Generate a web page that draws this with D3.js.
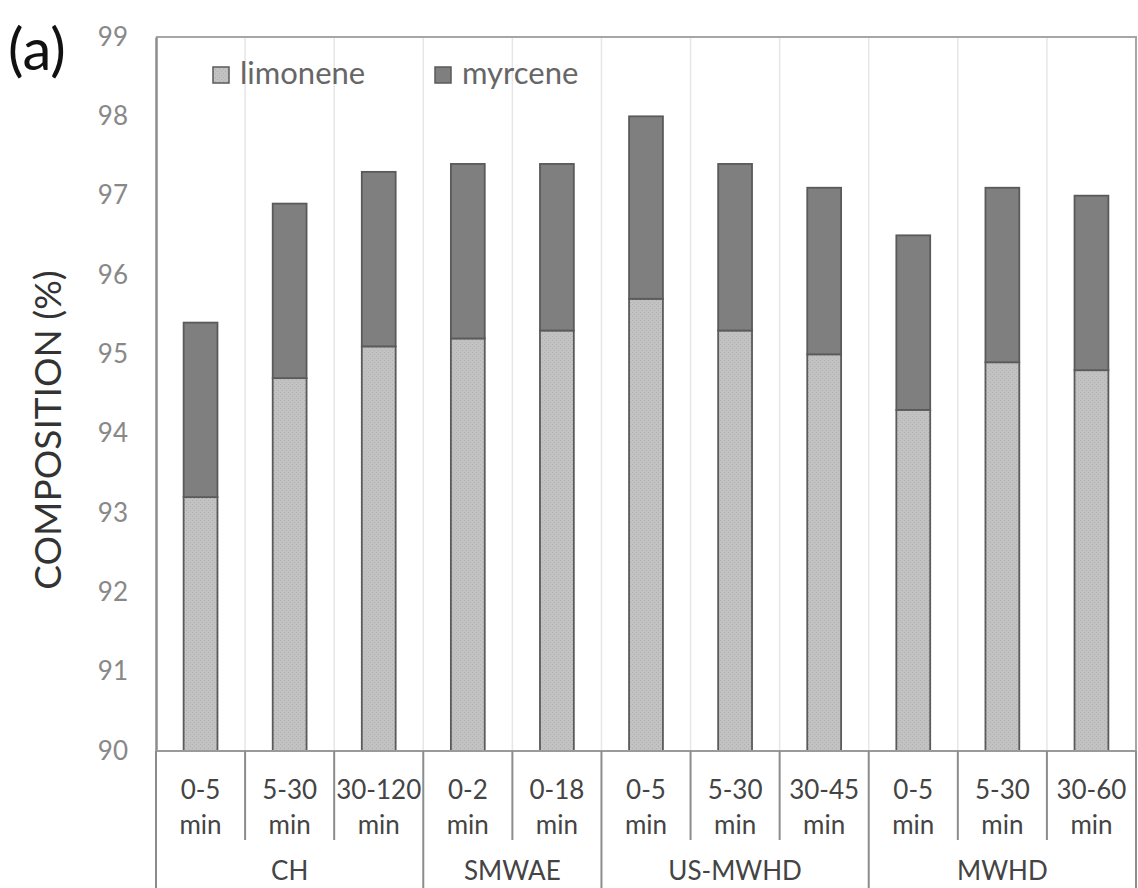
<!DOCTYPE html>
<html>
<head>
<meta charset="utf-8">
<script src="https://cdn.jsdelivr.net/npm/d3@7"></script>
<style>
  body { margin: 0; background: #fff; }
  svg { display: block; font-family: Lato, "Open Sans", sans-serif; }
</style>
</head>
<body>
<div id="container"></div>
<script>
// values
const timeRanges = ["0-5", "5-30", "30-120", "0-2", "0-18", "0-5", "5-30", "30-45", "0-5", "5-30", "30-60"]
const groupNames = ["CH", "SMWAE", "US-MWHD", "MWHD"]
const groupSizes = [3, 2, 3, 3]
const limonene = [93.2, 94.7, 95.1, 95.2, 95.3, 95.7, 95.3, 95.0, 94.3, 94.9, 94.8]
const myrcene = [2.2, 2.2, 2.2, 2.2, 2.1, 2.3, 2.1, 2.1, 2.2, 2.2, 2.2]
const yTicks = [90, 91, 92, 93, 94, 95, 96, 97, 98, 99]
const seriesNames = ["limonene", "myrcene"]

const width = 1138
const height = 888
const margin = { left: 156, top: 37, right: 2, bottom: 137 }

const colors = { limonene: "url(#dots)", myrcene: "#7f7f7f" }

const svg = d3.select("#container").append("svg")
    .attr("width", width).attr("height", height)

// light dotted fill like the original limonene bars
const pat = svg.append("defs").append("pattern")
    .attr("id", "dots").attr("width", 4).attr("height", 4)
    .attr("patternUnits", "userSpaceOnUse")
pat.append("rect").attr("width", 4).attr("height", 4).attr("fill", "#c2c2c2")
pat.append("rect").attr("width", 1).attr("height", 1).attr("fill", "#b0b0b0")
pat.append("rect").attr("x", 2).attr("y", 2).attr("width", 1).attr("height", 1).attr("fill", "#b0b0b0")

const keys = timeRanges.map((d, i) => i)
const x = d3.scaleBand().domain(keys)
    .range([margin.left, width - margin.right]).padding(0)
const y = d3.scaleLinear().domain([90, 99])
    .range([height - margin.bottom, margin.top]).clamp(true)

const rows = keys.map(i => ({ limonene: limonene[i], myrcene: myrcene[i] }))
const stacked = d3.stack().keys(seriesNames)(rows)

// vertical light grid at category boundaries
svg.append("g").selectAll("line")
    .data(keys.slice(1))
    .join("line")
    .attr("x1", d => x(d)).attr("x2", d => x(d))
    .attr("y1", margin.top).attr("y2", y(90))
    .attr("stroke", "#e6e6e6").attr("stroke-width", 1.5)

// plot border (top + right)
svg.append("path")
    .attr("d", `M${margin.left},${margin.top}H${width - margin.right}V${y(90)}`)
    .attr("fill", "none").attr("stroke", "#a6a6a6").attr("stroke-width", 2)

const barW = x.bandwidth() * 0.38
svg.append("g").selectAll("g")
    .data(stacked)
    .join("g")
    .attr("fill", d => colors[d.key])
    .selectAll("rect")
    .data(d => d)
    .join("rect")
    .attr("x", (d, i) => x(i) + (x.bandwidth() - barW) / 2)
    .attr("width", barW)
    .attr("y", d => y(d[1]))
    .attr("height", d => y(d[0]) - y(d[1]))
    .attr("stroke", "#5a5a5a").attr("stroke-width", 1.8)

// y axis
const yAxis = svg.append("g")
    .attr("transform", `translate(${margin.left},0)`)
    .call(d3.axisLeft(y).tickValues(yTicks).tickSize(0).tickPadding(28))
yAxis.select(".domain").attr("stroke", "#8c8c8c").attr("stroke-width", 2.5)
yAxis.selectAll("text").attr("fill", "#888").style("font-size", "26px")
    .attr("font-family", "Lato, sans-serif")

// x axis baseline and category labels
const xBase = y(90)
svg.append("line")
    .attr("x1", margin.left).attr("x2", width - margin.right)
    .attr("y1", xBase).attr("y2", xBase)
    .attr("stroke", "#9a9a9a").attr("stroke-width", 2)

const catLab = svg.append("g").selectAll("text")
    .data(keys)
    .join("text")
    .attr("x", d => x(d) + x.bandwidth() / 2)
    .attr("text-anchor", "middle")
    .attr("fill", "#444")
    .style("font-size", "26px")
catLab.append("tspan").attr("x", d => x(d) + x.bandwidth() / 2).attr("y", 799).text(d => timeRanges[d])
catLab.append("tspan").attr("x", d => x(d) + x.bandwidth() / 2).attr("y", 834).text("min")

// separators under the axis
const groupStarts = groupSizes.map((n, i) => d3.sum(groupSizes.slice(0, i)))
const inner = keys.slice(1).filter(k => !groupStarts.includes(k))
svg.append("g").selectAll("line")
    .data(inner)
    .join("line")
    .attr("x1", d => x(d)).attr("x2", d => x(d))
    .attr("y1", xBase).attr("y2", 840)
    .attr("stroke", "#8c8c8c").attr("stroke-width", 2)
svg.append("g").selectAll("line")
    .data(groupStarts.concat([timeRanges.length]))
    .join("line")
    .attr("x1", d => d < timeRanges.length ? x(d) : width - margin.right)
    .attr("x2", d => d < timeRanges.length ? x(d) : width - margin.right)
    .attr("y1", xBase).attr("y2", height)
    .attr("stroke", "#8c8c8c").attr("stroke-width", 2)

// group labels
svg.append("g").selectAll("text")
    .data(groupNames)
    .join("text")
    .attr("x", (d, i) => {
        const a = x(groupStarts[i])
        const b = x(groupStarts[i] + groupSizes[i] - 1) + x.bandwidth()
        return (a + b) / 2
    })
    .attr("y", 880)
    .attr("text-anchor", "middle")
    .attr("fill", "#444")
    .style("font-size", "26px")
    .text(d => d)

// legend
const legend = svg.append("g")
    .selectAll("g")
    .data(seriesNames)
    .join("g")
    .attr("transform", (d, i) => `translate(${[213, 435][i]},67)`)
legend.append("rect")
    .attr("width", 16).attr("height", 16)
    .attr("fill", d => colors[d]).attr("stroke", "#5a5a5a").attr("stroke-width", 1.5)
legend.append("text")
    .attr("x", 27).attr("y", 17)
    .attr("fill", "#666")
    .style("font-size", "31px")
    .text(d => d)

// y title
svg.append("text")
    .attr("transform", "translate(61,430) rotate(-90)")
    .attr("text-anchor", "middle")
    .attr("fill", "#333")
    .style("font-size", "37px")
    .text("COMPOSITION (%)")

// panel tag
svg.append("text")
    .attr("x", 8).attr("y", 70)
    .attr("fill", "#111")
    .style("font-size", "58px")
    .text("(a)")
</script>
</body>
</html>
